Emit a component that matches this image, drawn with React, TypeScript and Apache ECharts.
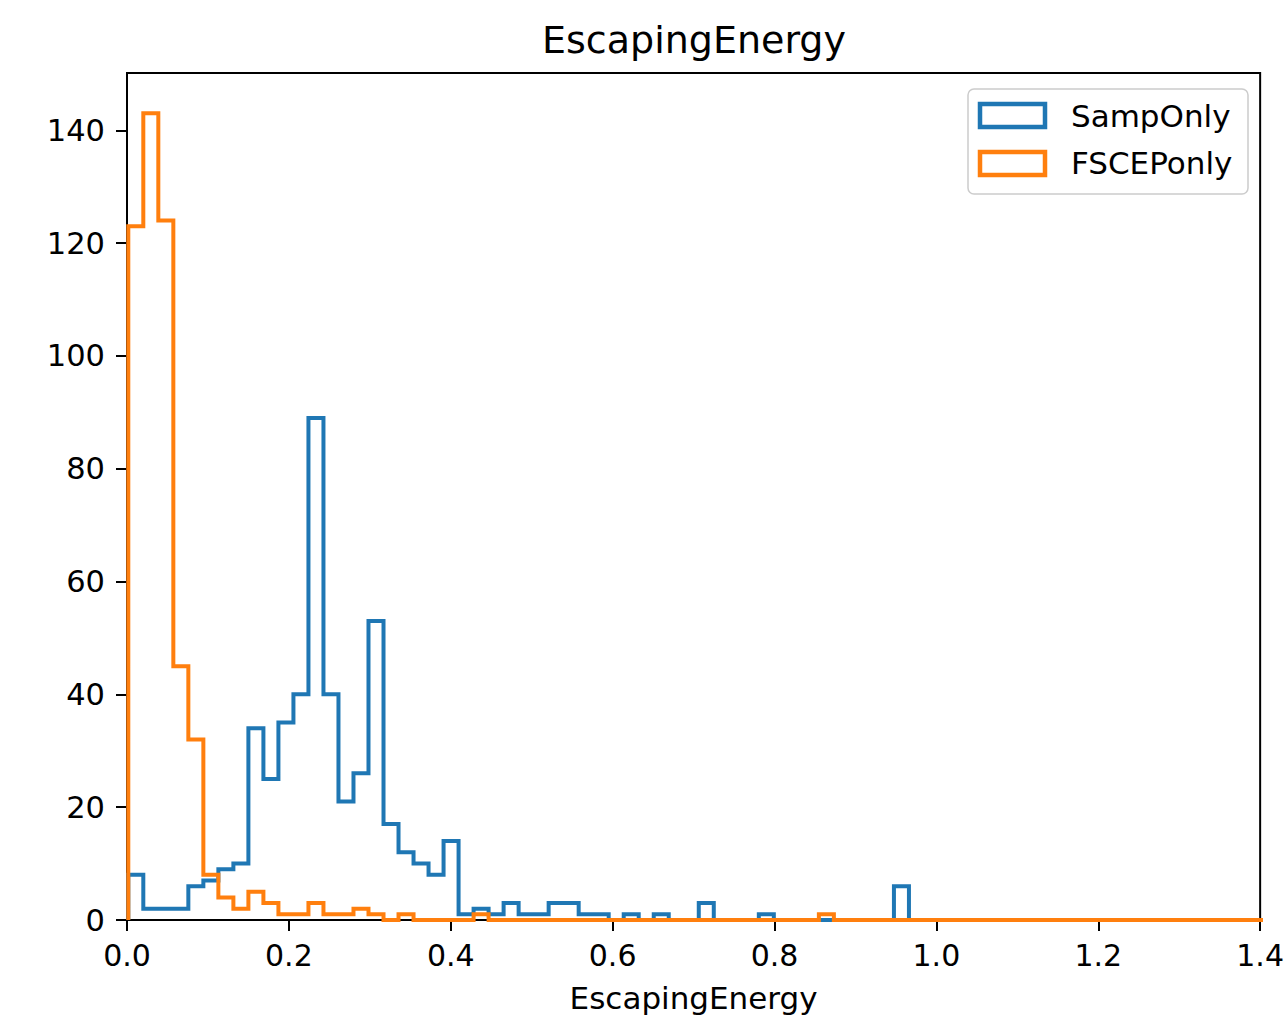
import React, { useEffect, useRef } from "react";
import * as echarts from "echarts";

// Histogram bins (shared by both series)
const binStart = 0.0016;
const binWidth = 0.018548;

// Counts per bin
const sampOnly = [
  8, 2, 2, 2, 6, 7, 9, 10, 34, 25,
  35, 40, 89, 40, 21, 26, 53, 17, 12, 10,
  8, 14, 1, 2, 1, 3, 1, 1, 3, 3,
  1, 1, 0, 1, 0, 1, 0, 0, 3, 0,
  0, 0, 1, 0, 0, 0, 0, 0, 0, 0,
  0, 6, 0, 0, 0, 0, 0, 0, 0, 0,
  0, 0, 0, 0, 0, 0, 0, 0, 0, 0,
  0, 0, 0, 0, 0, 0,
];
const fscepOnly = [
  123, 143, 124, 45, 32, 8, 4, 2, 5, 3,
  1, 1, 3, 1, 1, 2, 1, 0, 1, 0,
  0, 0, 0, 1, 0, 0, 0, 0, 0, 0,
  0, 0, 0, 0, 0, 0, 0, 0, 0, 0,
  0, 0, 0, 0, 0, 0, 1, 0, 0, 0,
  0, 0, 0, 0, 0, 0, 0, 0, 0, 0,
  0, 0, 0, 0, 0, 0, 0, 0, 0, 0,
  0, 0, 0, 0, 0, 0,
];

const xTicks = [0, 0.2, 0.4, 0.6, 0.8, 1.0, 1.2, 1.4];
const yTicks = [0, 20, 40, 60, 80, 100, 120, 140];
const seriesNames = ["SampOnly", "FSCEPonly"];
const colors = ["#1f77b4", "#ff7f0e"];

const FONT = "DejaVu Sans";

function stepData(counts: number[]) {
  const pts: [number, number][] = [[binStart, 0]];
  counts.forEach((c, k) => pts.push([binStart + k * binWidth, c]));
  pts.push([binStart + counts.length * binWidth, 0]);
  return pts;
}

export default function App() {
  const ref = useRef<HTMLDivElement>(null);
  useEffect(() => {
    if (!ref.current) return;
    const chart = echarts.init(ref.current, undefined, { renderer: "svg" });
    const option: any = {
      animation: false,
      backgroundColor: "#ffffff",
      title: {
        text: "EscapingEnergy",
        left: 689,
        top: 16,
        textAlign: "center",
        textStyle: { fontFamily: FONT, fontSize: 38, fontWeight: "normal", color: "#000" },
      },
      grid: {
        left: 127,
        top: 73,
        width: 1136,
        height: 847,
        show: true,
        borderColor: "#000",
        borderWidth: 2,
        backgroundColor: "transparent",
      },
      xAxis: {
        type: "value",
        min: 0,
        max: 1.4,
        interval: 0.2,
        name: "EscapingEnergy",
        nameLocation: "middle",
        nameGap: 62,
        nameTextStyle: { fontFamily: FONT, fontSize: 31, color: "#000" },
        axisLine: { show: true, lineStyle: { color: "#000", width: 2 } },
        axisTick: { show: true, length: 11, customValues: xTicks, lineStyle: { color: "#000", width: 2 } },
        axisLabel: {
          customValues: xTicks,
          formatter: (v: number) => v.toFixed(1),
          fontFamily: FONT,
          fontSize: 30,
          color: "#000",
          margin: 20,
        },
        splitLine: { show: false },
      },
      yAxis: {
        type: "value",
        min: 0,
        max: 150.15,
        interval: 20,
        axisLine: { show: true, lineStyle: { color: "#000", width: 2 } },
        axisTick: { show: true, length: 11, customValues: yTicks, lineStyle: { color: "#000", width: 2 } },
        axisLabel: {
          customValues: yTicks,
          fontFamily: FONT,
          fontSize: 30.5,
          color: "#000",
          margin: 22,
        },
        splitLine: { show: false },
      },
      series: [
        {
          name: seriesNames[0],
          type: "line",
          step: "end",
          symbol: "none",
          clip: true,
          data: stepData(sampOnly),
          lineStyle: { color: colors[0], width: 4, join: "miter", cap: "butt" },
          z: 2,
        },
        {
          name: seriesNames[1],
          type: "line",
          step: "end",
          symbol: "none",
          clip: true,
          data: stepData(fscepOnly),
          lineStyle: { color: colors[1], width: 4, join: "miter", cap: "butt" },
          z: 3,
        },
      ],
      graphic: [
        {
          type: "rect",
          shape: { x: 968, y: 89, width: 280, height: 105, r: 6 },
          style: { fill: "rgba(255,255,255,0.8)", stroke: "#cccccc", lineWidth: 1.5 },
          z: 10,
        },
        {
          type: "rect",
          shape: { x: 980, y: 104, width: 65, height: 23 },
          style: { fill: "none", stroke: colors[0], lineWidth: 4.5 },
          z: 11,
        },
        {
          type: "rect",
          shape: { x: 980, y: 152, width: 65, height: 23 },
          style: { fill: "none", stroke: colors[1], lineWidth: 4.5 },
          z: 11,
        },
        {
          type: "text",
          x: 1071,
          y: 116,
          style: { text: seriesNames[0], font: `31px "${FONT}"`, fill: "#000", verticalAlign: "middle", align: "left" },
          z: 11,
        },
        {
          type: "text",
          x: 1071,
          y: 163,
          style: { text: seriesNames[1], font: `31px "${FONT}"`, fill: "#000", verticalAlign: "middle", align: "left" },
          z: 11,
        },
      ],
    };
    chart.setOption(option);
    return () => chart.dispose();
  }, []);
  return (
    <div
      ref={ref}
      style={{ position: "absolute", left: 0, top: 0, width: 1287, height: 1020 }}
    />
  );
}
